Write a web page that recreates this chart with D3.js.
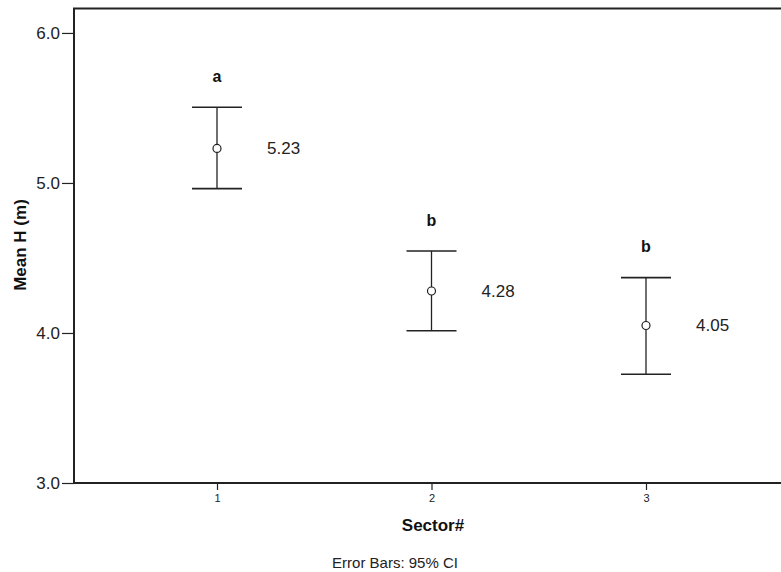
<!DOCTYPE html>
<html><head><meta charset="utf-8">
<script src="https://cdn.jsdelivr.net/npm/d3@7"></script>
<style>body{margin:0;background:#fff}svg{display:block}text{font-family:"Liberation Sans",Arial,sans-serif}</style>
</head><body><svg id="c" width="781" height="572"></svg>
<script>
const categories = ["1","2","3"];
const means = [5.23, 4.28, 4.05];
const ciLow = [4.962, 4.015, 3.725];
const ciHigh = [5.505, 4.547, 4.369];
const meanLabels = ["5.23","4.28","4.05"];
const groupLetters = ["a","b","b"];
const yTicks = [3.0, 4.0, 5.0, 6.0];

const svg = d3.select("#c");
const L = 74, T = 8.5, R = 789, B = 483;
const x = d3.scalePoint().domain(categories).range([217, 646]);
const y = d3.scaleLinear().domain([3, 6.163]).range([B, T]);
const ink = "#222";

// frame
svg.append("path").attr("d", `M${L},${B}V${T}H${R}`).attr("fill","none").attr("stroke",ink).attr("stroke-width",2);
svg.append("line").attr("x1",L).attr("x2",R).attr("y1",B).attr("y2",B).attr("stroke",ink).attr("stroke-width",2);

// y axis
const ya = svg.append("g").attr("transform",`translate(${L},0)`)
  .call(d3.axisLeft(y).tickValues(yTicks).tickFormat(d3.format(".1f")).tickSize(12).tickPadding(2));
ya.select(".domain").remove();
ya.selectAll("line").attr("stroke",ink).attr("stroke-width",1.2);
ya.selectAll("text").attr("font-size",17).attr("fill","#222").attr("font-family","Liberation Sans, Arial");

// x axis
const xa = svg.append("g").attr("transform",`translate(0,${B})`)
  .call(d3.axisBottom(x).tickSize(7).tickPadding(4));
xa.select(".domain").remove();
xa.selectAll("line").attr("stroke",ink).attr("stroke-width",1.2);
xa.selectAll("text").attr("font-size",11).attr("fill","#222").attr("font-family","Liberation Sans, Arial");

// error bars
const g = svg.append("g");
categories.forEach((c,i)=>{
  const cx = x(c);
  g.append("line").attr("x1",cx).attr("x2",cx).attr("y1",y(ciHigh[i])).attr("y2",y(ciLow[i])).attr("stroke",ink).attr("stroke-width",1.3);
  [ciHigh[i], ciLow[i]].forEach(v=>{
    g.append("line").attr("x1",cx-25).attr("x2",cx+25).attr("y1",y(v)).attr("y2",y(v)).attr("stroke",ink).attr("stroke-width",1.6);
  });
  g.append("circle").attr("cx",cx).attr("cy",y(means[i])).attr("r",4).attr("fill","#fff").attr("stroke",ink).attr("stroke-width",1.2);
  g.append("text").attr("x",cx+50).attr("y",y(means[i])).attr("dy","0.35em").attr("font-size",17).attr("fill","#222").text(meanLabels[i]);
  g.append("text").attr("x",cx).attr("y",y(ciHigh[i])-31).attr("dy","0.35em").attr("text-anchor","middle").attr("font-size",16).attr("font-weight","bold").attr("fill","#111").text(groupLetters[i]);
});

// titles
svg.append("text").attr("transform","translate(20,245) rotate(-90)").attr("text-anchor","middle").attr("dy","0.35em")
  .attr("font-size",17).attr("font-weight","bold").attr("fill","#111").text("Mean H (m)");
svg.append("text").attr("x",433).attr("y",525).attr("dy","0.35em").attr("text-anchor","middle")
  .attr("font-size",17).attr("font-weight","bold").attr("fill","#111").text("Sector#");
svg.append("text").attr("x",395).attr("y",563).attr("dy","0.35em").attr("text-anchor","middle")
  .attr("font-size",15).attr("fill","#222").text("Error Bars: 95% CI");
</script></body></html>
